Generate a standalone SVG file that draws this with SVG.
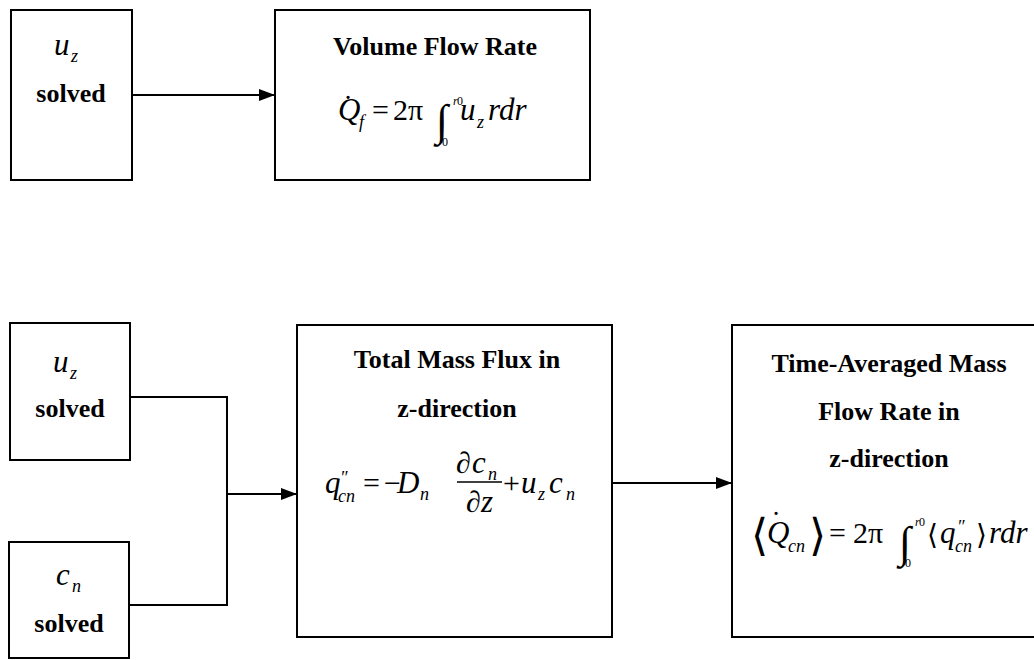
<svg xmlns="http://www.w3.org/2000/svg" width="1034" height="660" viewBox="0 0 1034 660">
<style>
.box{fill:#fff;stroke:#000;stroke-width:2}
.b{font-weight:bold;font-size:26px;text-anchor:middle;fill:#000}
.m{font-style:italic;font-size:31px;fill:#000}
.r{font-size:30px;fill:#000}
.s{font-style:italic;font-size:18px;fill:#000}
.t{font-size:12px;fill:#000}
.i{font-size:44px;fill:#000}
.c{fill:none;stroke:#000;stroke-width:2}
</style>
<defs>
<marker id="ah" markerWidth="16" markerHeight="12" refX="15" refY="6" orient="auto" markerUnits="userSpaceOnUse">
<path d="M0,0 L16,6 L0,12 Z" fill="#000"/>
</marker>
</defs>
<rect width="1034" height="660" fill="#fff"/>
<g id="connectors">
<line class="c" x1="132" y1="95" x2="274" y2="95" marker-end="url(#ah)"/>
<polyline class="c" points="130,397 227,397 227,605 129,605"/>
<line class="c" x1="227" y1="494" x2="296" y2="494" marker-end="url(#ah)"/>
<line class="c" x1="612" y1="483" x2="731" y2="483" marker-end="url(#ah)"/>
</g>
<g font-family="'Liberation Serif', 'DejaVu Serif', serif">
<g id="n1">
<rect class="box" x="11" y="10" width="121" height="170"/>
<text class="m" x="54" y="55" font-size="33">u</text><text class="s" x="71" y="62">z</text>
<text class="b" x="71" y="102">solved</text>
</g>
<g id="n2">
<rect class="box" x="275" y="10" width="315" height="170"/>
<text class="b" x="435" y="55">Volume Flow Rate</text>
<text class="m" x="338" y="120">Q</text><text class="r" x="343" y="116">˙</text>
<text class="s" x="359" y="128">f</text>
<text class="r" x="372" y="120">=</text>
<text class="r" x="393" y="120">2π</text>
<text class="i" x="436" y="135">∫</text>
<text class="t" x="453" y="105" font-style="italic" font-size="10">r</text><text class="t" x="457" y="105" font-size="8">0</text>
<text class="t" x="442" y="146">0</text>
<text class="m" x="460" y="120">u</text><text class="s" x="477" y="128">z</text>
<text class="m" x="488" y="120" font-size="33">rdr</text>
</g>
<g id="n3">
<rect class="box" x="10" y="323" width="120" height="137"/>
<text class="m" x="53" y="372" font-size="33">u</text><text class="s" x="70" y="379">z</text>
<text class="b" x="70" y="417">solved</text>
</g>
<g id="n4">
<rect class="box" x="9" y="542" width="120" height="116"/>
<text class="m" x="56" y="585" font-size="33">c</text><text class="s" x="72" y="592">n</text>
<text class="b" x="69" y="632">solved</text>
</g>
<g id="n5">
<rect class="box" x="297" y="325" width="315" height="312"/>
<text class="b" x="457" y="368">Total Mass Flux in</text>
<text class="b" x="457" y="417">z-direction</text>
<text class="m" x="325" y="493">q</text><text class="s" x="340" y="484" font-size="16">″</text>
<text class="s" x="338" y="502">cn</text>
<text class="r" x="363" y="493">=</text>
<text class="r" x="384" y="493">−</text>
<text class="m" x="397" y="493">D</text><text class="s" x="420" y="500">n</text>
<text class="r" x="456" y="473">∂</text><text class="m" x="472" y="473">c</text><text class="s" x="488" y="480">n</text>
<line x1="457" y1="482" x2="502" y2="482" stroke="#000" stroke-width="1.5"/>
<text class="r" x="466" y="512">∂</text><text class="m" x="481" y="512">z</text>
<text class="r" x="503" y="493">+</text>
<text class="m" x="521" y="493">u</text><text class="s" x="538" y="500">z</text>
<text class="m" x="549" y="493">c</text><text class="s" x="566" y="500">n</text>
</g>
<g id="n6">
<rect class="box" x="732" y="325" width="314" height="312"/>
<text class="b" x="889" y="372">Time-Averaged Mass</text>
<text class="b" x="889" y="420">Flow Rate in</text>
<text class="b" x="889" y="467">z-direction</text>
<text x="751" y="550" font-family="'DejaVu Serif', serif" font-size="44" font-weight="200">⟨</text>
<text class="m" x="767" y="543">Q</text><text class="r" x="771" y="532">˙</text>
<text class="s" x="788" y="552">cn</text>
<text x="809" y="550" font-family="'DejaVu Serif', serif" font-size="44" font-weight="200">⟩</text>
<text class="r" x="829" y="543">=</text>
<text class="r" x="853" y="543">2π</text>
<text class="i" x="899" y="557">∫</text>
<text class="t" x="915" y="526" font-style="italic" font-size="10">r</text><text class="t" x="919" y="526" font-size="8">0</text>
<text class="t" x="905" y="567">0</text>
<text x="927" y="544" font-family="'DejaVu Serif', serif" font-size="28">⟨</text>
<text class="m" x="940" y="543">q</text><text class="s" x="957" y="533" font-size="16">″</text>
<text class="s" x="955" y="552">cn</text>
<text x="976" y="544" font-family="'DejaVu Serif', serif" font-size="28">⟩</text>
<text class="m" x="989" y="543" font-size="33">rdr</text>
</g>
</g>
</svg>
